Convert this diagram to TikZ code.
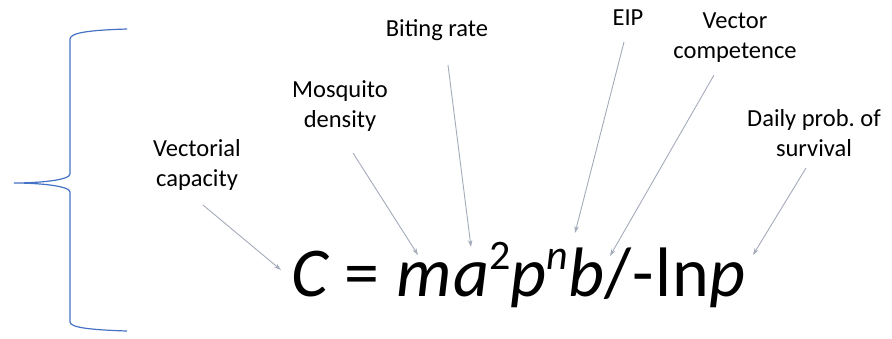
\documentclass[tikz,border=0pt]{standalone}
\usepackage{fontspec}
\setmainfont{Carlito}
\newfontfamily\eqfont[LetterSpace=1.8]{Carlito}
\usetikzlibrary{arrows.meta}
\definecolor{bracecol}{HTML}{4472C4}
\definecolor{arrcol}{HTML}{A3ABBA}
\frenchspacing
\begin{document}
\begin{tikzpicture}[x=1pt,y=-1pt,
  lbl/.style={align=center,inner sep=0pt,font=\fontsize{24.5}{30}\selectfont},
  ptr/.style={draw=arrcol,line width=0.9pt,-{Stealth[length=7pt,width=4.5pt]}},
  brc/.style={draw=bracecol,line width=1.2pt}]
\useasboundingbox (0,0) rectangle (892,338);
% brace
\draw[brc] (127,29) .. controls (95,30) and (70,32) .. (70,39)
  -- (70,174) .. controls (70,180) and (40,183) .. (14,183)
  .. controls (40,183) and (70,186) .. (70,192)
  -- (70,322) .. controls (70,328) and (95,330) .. (127,331);
% formula
\node[anchor=base west,inner sep=0pt,font=\eqfont\fontsize{70}{74}\selectfont] (eq) at (291,296)
  {\itshape C\upshape{} = \itshape ma\raisebox{0.38em}{\upshape\fontsize{42}{42}\selectfont 2}p\raisebox{0.38em}{\fontsize{42}{42}\selectfont n}b\upshape/-ln\itshape p};
% labels
\node[lbl] (vc) at (197,165) {Vectorial\\capacity};
\node[lbl] (md) at (340,106) {Mosquito\\density};
\node[lbl] (br) at (437,30) {Biting rate};
\node[lbl] (eip) at (628,18) {EIP};
\node[lbl] (vcomp) at (735,38) {Vector\\competence};
\node[lbl] (dps) at (814,133) {Daily prob. of\\survival};
% arrow ends
\coordinate (s1) at (203,205); \coordinate (t1) at (281,270);
\coordinate (s2) at (353,153); \coordinate (t2) at (418,255);
\coordinate (s3) at (448,65);  \coordinate (t3) at (471,247);
\coordinate (s4) at (624,42);  \coordinate (t4) at (575,233);
\coordinate (s5) at (714,75);  \coordinate (t5) at (610,256);
\coordinate (s6) at (806,168); \coordinate (t6) at (753,255);
\draw[ptr] (s1) -- (t1);
\draw[ptr] (s2) -- (t2);
\draw[ptr] (s3) -- (t3);
\draw[ptr] (s4) -- (t4);
\draw[ptr] (s5) -- (t5);
\draw[ptr] (s6) -- (t6);
\end{tikzpicture}
\end{document}
